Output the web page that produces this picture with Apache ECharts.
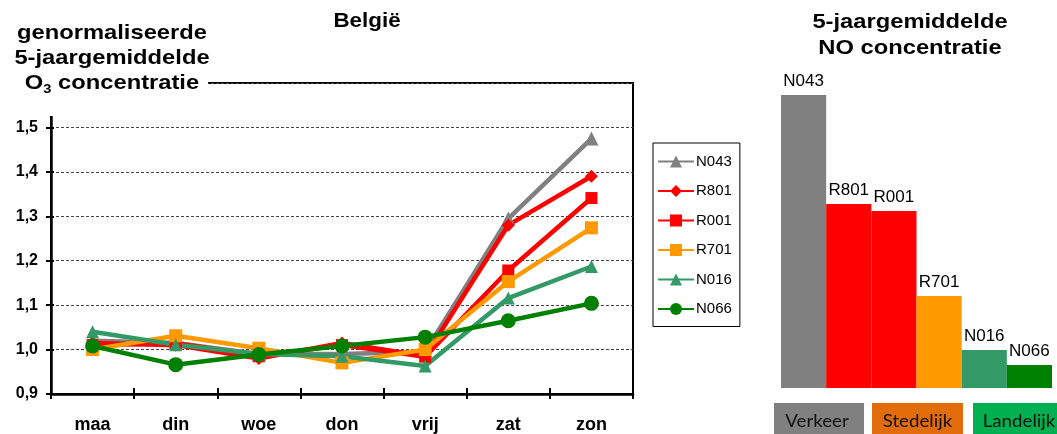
<!DOCTYPE html>
<html>
<head>
<meta charset="utf-8">
<script src="https://cdn.jsdelivr.net/npm/echarts@6/dist/echarts.min.js"></script>
<style>html,body{margin:0;padding:0;background:#fff}#c{width:1057px;height:434px}</style>
</head>
<body>
<div id="c"></div>
<script>
var days = ['maa','din','woe','don','vrij','zat','zon'];
var yTicks = [0.9, 1.0, 1.1, 1.2, 1.3, 1.4, 1.5];
var N043 = [1.02, 1.015, 0.99, 0.99, 0.995, 1.295, 1.475];
var R801 = [1.015, 1.01, 0.98, 1.015, 0.985, 1.28, 1.39];
var R001 = [1.01, 1.015, 0.985, 1.01, 0.984, 1.178, 1.341];
var R701 = [1.0, 1.031, 1.003, 0.97, 1.0, 1.153, 1.274];
var N016 = [1.04, 1.011, 0.99, 0.985, 0.963, 1.116, 1.187];
var N066 = [1.008, 0.966, 0.989, 1.008, 1.028, 1.065, 1.104];

var stations = ['N043','R801','R001','R701','N016','N066'];
var noValues = [29.3, 18.4, 17.7, 9.2, 3.8, 2.3];
var stationColors = ['#808080','#FF0000','#FF0000','#FF9900','#339966','#008000'];
var groups = ['Verkeer','Stedelijk','Landelijk'];
var groupColors = ['#808080','#E36C0A','#00B050'];

var lineSeriesData = [N043, R801, R001, R701, N016, N066];
var symbols = ['triangle','diamond','rect','rect','triangle','circle'];
var symbolSizes = [14, 13, 12, 13, 13, 15];

var chart = echarts.init(document.getElementById('c'));
var series = stations.map(function (name, i) {
  return {
    name: name, type: 'line', xAxisIndex: 0, yAxisIndex: 0,
    data: lineSeriesData[i],
    symbol: symbols[i], symbolSize: symbolSizes[i],
    lineStyle: {color: stationColors[i], width: 4.5},
    itemStyle: {color: stationColors[i]},
    emphasis: {disabled: true}, animation: false
  };
});
series.push({
  type: 'bar', xAxisIndex: 2, yAxisIndex: 2,
  data: noValues.map(function (v, i) { return {value: v, itemStyle: {color: stationColors[i]}}; }),
  barCategoryGap: 0, barGap: 0,
  label: {show: true, position: 'top', distance: 5, formatter: '{b}', color: '#000',
          fontFamily: 'Liberation Sans, Arial', fontSize: 17},
  animation: false
});

var graphics = [
  {type: 'rect', left: 0, top: 0, shape: {width: 208, height: 116}, style: {fill: '#fff'}, z: 100},
  {type: 'text', x: 112, y: 21, z: 101, scaleX: 1.13, style: {
    text: '{b|genormaliseerde}\n{b|5-jaargemiddelde}\n{b|O}{s|3}{b| concentratie}',
    align: 'center', verticalAlign: 'top', fill: '#000',
    rich: {
      b: {fontFamily: 'Liberation Sans, Arial', fontWeight: 'bold', fontSize: 21, lineHeight: 25},
      s: {fontFamily: 'Liberation Sans, Arial', fontWeight: 'bold', fontSize: 13, lineHeight: 25, verticalAlign: 'bottom', padding: [8,0,0,0]}
    }}},
  {type: 'text', x: 367, y: 11, z: 101, scaleX: 1.12, style: {
    text: 'België', align: 'center', verticalAlign: 'top', fill: '#000',
    font: 'bold 20px "Liberation Sans", Arial'}},
  {type: 'text', x: 910, y: 9, z: 101, scaleX: 1.13, style: {
    text: '5-jaargemiddelde\nNO concentratie', align: 'center', verticalAlign: 'top', fill: '#000',
    font: 'bold 21px "Liberation Sans", Arial', lineHeight: 26}}
];
var boxX = [774, 872, 973];
var boxW = [90, 91, 84];
var textShift = [-2, 0, 4];
groups.forEach(function (g, i) {
  graphics.push({type: 'rect', left: boxX[i], top: 403, shape: {width: boxW[i], height: 31},
    style: {fill: groupColors[i]}, z: 100});
  graphics.push({type: 'text', x: boxX[i] + boxW[i] / 2 + textShift[i], y: 421, z: 101, scaleX: 1.04,
    style: {text: g, align: 'center', verticalAlign: 'middle', fill: '#111',
      font: '18px Lato, "Open Sans", sans-serif'}});
});

chart.setOption({
  backgroundColor: '#fff',
  animation: false,
  grid: [
    {left: 51, right: 424, top: 83, bottom: 38, show: true, borderColor: '#000', borderWidth: 2, backgroundColor: 'transparent'},
    {left: 781, right: 5, top: 88, bottom: 46}
  ],
  legend: {
    data: stations, orient: 'vertical', left: 653, top: 143,
    itemWidth: 36, itemHeight: 15, itemGap: 14.5,
    padding: [11, 8, 10, 4], borderColor: '#000', borderWidth: 1,
    textStyle: {fontFamily: 'Liberation Sans, Arial', fontSize: 15, color: '#000', padding: [0,0,0,-3]},
    selectedMode: false
  },
  xAxis: [
    {type: 'category', gridIndex: 0, data: days, position: 'bottom',
     axisLine: {lineStyle: {color: '#000', width: 2.5}},
     axisTick: {show: true, length: 5, lineStyle: {color: '#000', width: 2}},
     axisLabel: {color: '#000', fontWeight: 'bold', fontFamily: 'Liberation Sans, Arial', fontSize: 18, margin: 22}},
    {type: 'category', gridIndex: 0, data: days, position: 'bottom', offset: 0,
     axisLine: {show: false}, axisLabel: {show: false},
     axisTick: {show: true, inside: true, length: 6, lineStyle: {color: '#000', width: 2}}},
    {type: 'category', gridIndex: 1, data: stations, show: false}
  ],
  yAxis: [
    {type: 'value', gridIndex: 0, min: 0.9, max: 1.6, interval: 0.1, position: 'left',
     axisLine: {show: true, lineStyle: {color: '#000', width: 2.5}},
     axisTick: {show: true, length: 5, lineStyle: {color: '#000', width: 2}},
     splitLine: {show: true, lineStyle: {color: '#444', type: [3, 2], width: 1}},
     axisLabel: {color: '#000', fontWeight: 'bold', fontFamily: 'Liberation Sans, Arial', fontSize: 16, margin: 13,
       formatter: function (v) { return yTicks.some(function (t) { return Math.abs(t - v) < 1e-6; }) ? v.toFixed(1).replace('.', ',') : ''; }}},
    {type: 'value', gridIndex: 0, min: 0.9, max: 1.6, interval: 0.1, position: 'left', offset: 0,
     axisLine: {show: false}, axisLabel: {show: false}, splitLine: {show: false},
     axisTick: {show: true, inside: true, length: 3, lineStyle: {color: '#000', width: 2}}},
    {type: 'value', gridIndex: 1, min: 0, max: 30, show: false, splitLine: {show: false}}
  ],
  graphic: graphics,
  series: series
});
</script>
</body>
</html>
